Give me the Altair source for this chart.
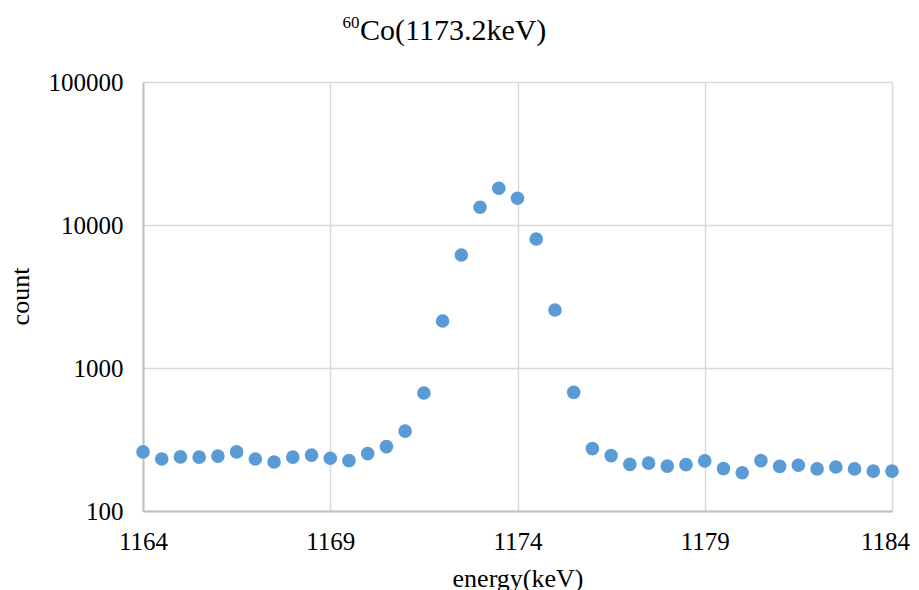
import altair as alt
import pandas as pd

energy = [1164 + 0.5 * i for i in range(41)]
counts = [259, 231, 239, 238, 242, 259, 231, 220, 238, 246,
          234, 225, 252, 282, 362, 669, 2131, 6166, 13300, 18060,
          15370, 7980, 2545, 676, 273, 244, 212, 216, 206, 211,
          224, 198, 185, 225, 205, 209, 197, 203, 197, 190, 190]

x_ticks = [1164, 1169, 1174, 1179, 1184]
y_ticks = [100, 1000, 10000, 100000]

title_main = ["Co(1173.2keV)"]
title_sup = ["60"]

df = pd.DataFrame({"energy": energy, "count": counts})

FONT = "Liberation Serif"

points = alt.Chart(df).mark_circle(size=185, opacity=1, color="#5B9BD5").encode(
    x=alt.X("energy:Q",
            scale=alt.Scale(domain=[1164, 1184], nice=False, zero=False),
            axis=alt.Axis(values=x_ticks, format="d", title="energy(keV)",
                          grid=True, gridColor="#d9d9d9", gridWidth=1.5,
                          domainColor="#bfbfbf", domainWidth=2,
                          ticks=False, tickSize=0, labelPadding=18, labelFlush=False,
                          labelOffset={"condition": {"test": "datum.value == 1184", "value": -7},
                                       "value": 0},
                          labelFont=FONT, labelFontSize=25, labelColor="#000",
                          titleFont=FONT, titleFontSize=26, titleFontWeight="normal",
                          titleColor="#000", titleY=67, titleBaseline="middle")),
    y=alt.Y("count:Q",
            scale=alt.Scale(type="log", domain=[100, 100000], nice=False),
            axis=alt.Axis(values=y_ticks, format="d", title="count",
                          grid=True, gridColor="#d9d9d9", gridWidth=1.5,
                          domainColor="#bfbfbf", domainWidth=2,
                          ticks=False, tickSize=0, labelPadding=20, labelFlush=False,
                          labelFont=FONT, labelFontSize=25, labelColor="#000",
                          titleFont=FONT, titleFontSize=26, titleFontWeight="normal",
                          titleColor="#000", titleAngle=270, titleX=-123,
                          titleY=214, titleBaseline="middle", titleAlign="center")),
)

main = alt.Chart(pd.DataFrame({"t": title_main})).mark_text(
    font=FONT, fontSize=30, color="#000", align="left", baseline="middle"
).encode(text="t:N", x=alt.value(217), y=alt.value(-51))

sup = alt.Chart(pd.DataFrame({"t": title_sup})).mark_text(
    font=FONT, fontSize=17, color="#000", align="center", baseline="middle"
).encode(text="t:N", x=alt.value(208), y=alt.value(-59))

chart = alt.layer(points, main, sup).properties(
    width=749, height=429,
    autosize=alt.AutoSizeParams(type="none"),
    padding={"left": 135, "top": 74, "right": 19, "bottom": 90},
).configure_view(stroke=None)

chart.save("out.html", embed_options={"renderer": "svg", "actions": False})
